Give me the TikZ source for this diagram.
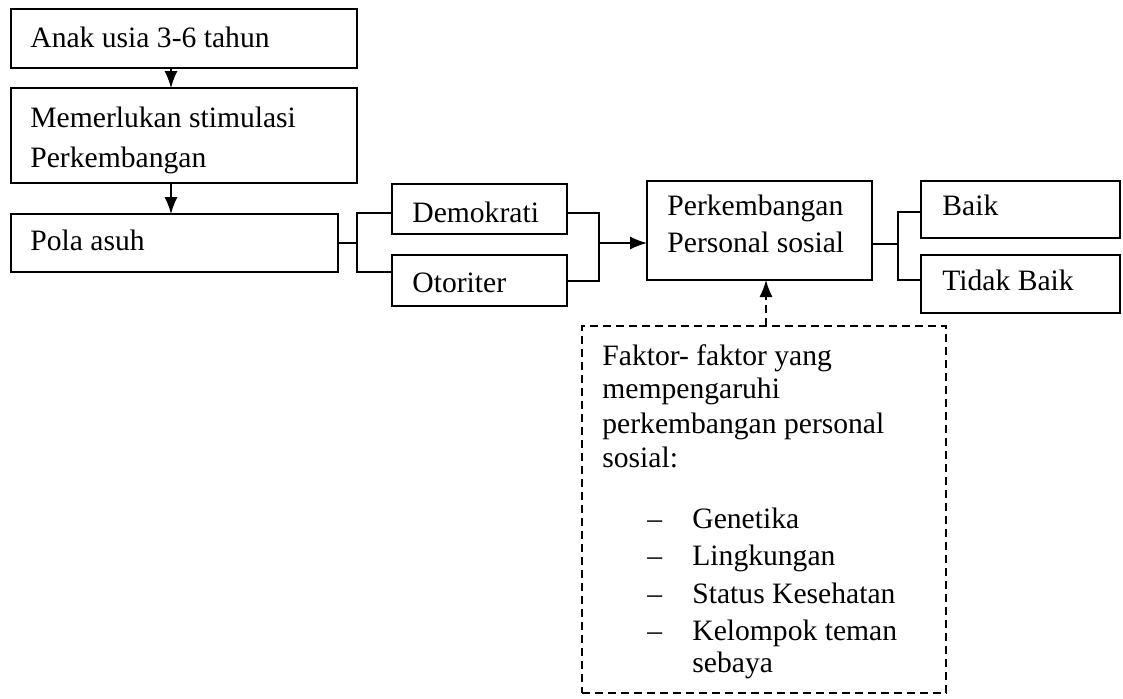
\documentclass[tikz,border=0pt]{standalone}
\usepackage{fontspec}
\setmainfont{Liberation Serif}
\usetikzlibrary{fit,arrows.meta}
\begin{document}
\begin{tikzpicture}[x=0.5pt,y=-0.5pt,
  box/.style={draw,line width=0.7pt,inner sep=0pt,outer sep=0pt},
  dbox/.style={draw,line width=0.7pt,inner sep=0pt,outer sep=0pt,dash pattern=on 4pt off 2.5pt},
  txt/.style={anchor=base west,inner sep=0pt,font=\fontsize{14.8}{17}\selectfont},
  ln/.style={line width=0.7pt},
  arr/.style={line width=0.7pt,-{Latex[length=8.5pt,width=6.5pt]}},
  darr/.style={line width=0.7pt,dash pattern=on 4pt off 2.5pt,-{Latex[length=8.5pt,width=6.5pt]}}]
\useasboundingbox[fill=white] (0,0) rectangle (1123,698);
% boxes
\node[box,fit={(11,9)(357,68)}] (b1) {};
\node[box,fit={(11,88)(357,183)}] (b2) {};
\node[box,fit={(11,214)(338,272)}] (b3) {};
\node[box,fit={(392,184)(567,234)}] (demo) {};
\node[box,fit={(392,255)(567,306)}] (oto) {};
\node[box,fit={(647,181)(872,280)}] (perk) {};
\node[box,fit={(921,181)(1120,238)}] (baik) {};
\node[box,fit={(921,255)(1120,313)}] (tbaik) {};
\node[dbox,fit={(582,326)(946,693)}] (fak) {};
% texts
\node[txt] (t1) at (30,47) {Anak usia 3-6 tahun};
\node[txt] (t2a) at (30,127) {Memerlukan stimulasi};
\node[txt] (t2b) at (30,167) {Perkembangan};
\node[txt] (t3) at (30,250) {Pola asuh};
\node[txt] (t4) at (412,222) {Demokrati};
\node[txt] (t5) at (412,292) {Otoriter};
\node[txt] (t6a) at (667,215) {Perkembangan};
\node[txt] (t6b) at (667,252) {Personal sosial};
\node[txt] (t7) at (942,215) {Baik};
\node[txt] (t8) at (942,290) {Tidak Baik};
\node[txt] (f1) at (602,365) {Faktor- faktor yang};
\node[txt] (f2) at (602,398) {mempengaruhi};
\node[txt] (f3) at (602,433) {perkembangan personal};
\node[txt] (f4) at (602,467) {sosial:};
\node[txt] (d1) at (647,528) {--};
\node[txt] (g1) at (692,528) {Genetika};
\node[txt] (d2) at (647,565) {--};
\node[txt] (g2) at (692,565) {Lingkungan};
\node[txt] (d3) at (647,603) {--};
\node[txt] (g3) at (692,603) {Status Kesehatan};
\node[txt] (d4) at (647,640) {--};
\node[txt] (g4) at (692,640) {Kelompok teman};
\node[txt] (g5) at (692,672) {sebaya};
% coordinates
\coordinate (ax) at (171,0);
\coordinate (j1) at (357,243);
\coordinate (j1a) at (357,213);
\coordinate (j1b) at (357,272);
\coordinate (j2a) at (599,213);
\coordinate (j2b) at (599,281);
\coordinate (j2) at (599,243);
\coordinate (j3) at (898,244);
\coordinate (j3a) at (898,212);
\coordinate (j3b) at (898,280);
\coordinate (dx) at (766,0);
% connectors
\draw[arr] (b1.south -| ax) -- (b2.north -| ax);
\draw[arr] (b2.south -| ax) -- (b3.north -| ax);
\draw[ln] (b3.east |- j1) -- (j1);
\draw[ln] (demo.west |- j1a) -- (j1a) -- (j1b) -- (oto.west |- j1b);
\draw[ln] (demo.east |- j2a) -- (j2a) -- (j2b) -- (oto.east |- j2b);
\draw[arr] (j2) -- (perk.west |- j2);
\draw[ln] (perk.east |- j3) -- (j3);
\draw[ln] (baik.west |- j3a) -- (j3a) -- (j3b) -- (tbaik.west |- j3b);
\draw[darr] (fak.north -| dx) -- (perk.south -| dx);
\end{tikzpicture}
\end{document}
